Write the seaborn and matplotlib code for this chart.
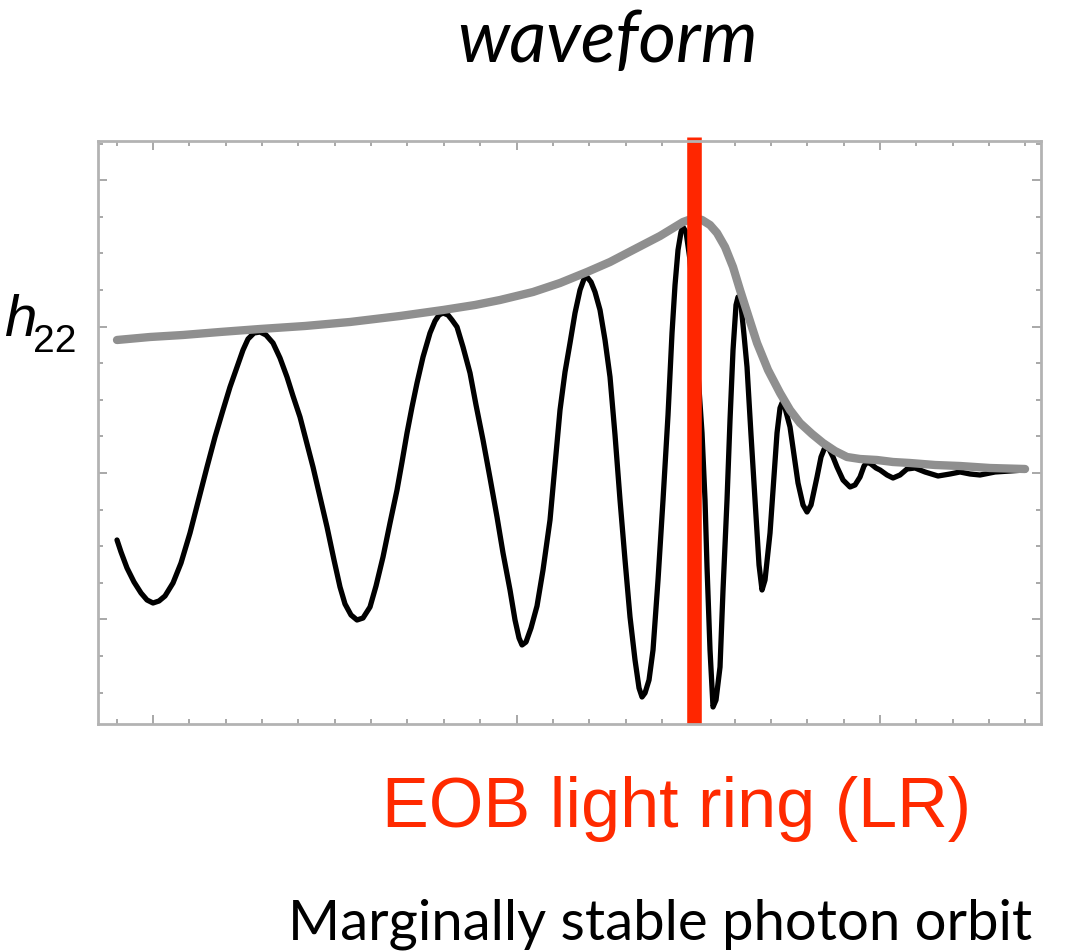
import numpy as np
import matplotlib
matplotlib.use("Agg")
import matplotlib.pyplot as plt
import pandas as pd
import seaborn as sns

# waveform h22 (arbitrary time / amplitude units)
t_wave = [-36, -32, -26, -19, -12, -6, 0, 6, 12, 20, 28, 37, 45, 54, 62, 70, 77, 84,
          90, 95, 101, 107, 113, 120, 127, 134, 140, 147, 153, 160, 167, 174, 181,
          187, 192, 198, 204, 210, 217, 223, 230, 237, 244, 249, 254, 259, 264, 270,
          277, 282, 286, 290, 295, 299, 304, 310, 317, 323, 330, 337, 344, 350, 357,
          362, 366, 369, 373, 378, 384, 390, 397, 402, 407, 412, 417, 422, 427, 431,
          434, 438, 442, 447, 452, 457, 462, 467, 472, 477, 482, 486, 489, 492, 496,
          500, 505, 510, 515, 519, 522, 525, 528, 530, 533, 537, 542, 549, 552, 554,
          557, 560, 563, 567, 570, 574, 577, 580, 583, 585, 588, 591, 594, 598, 602,
          606, 609, 612, 617, 621, 624, 627, 629, 632, 637, 641, 645, 650, 654, 658,
          664, 668, 672, 676, 680, 684, 690, 697, 702, 707, 711, 714, 718, 723, 727,
          734, 740, 747, 754, 762, 772, 785, 797, 807, 817, 827, 842, 857, 872]
h_wave = [-67, -79, -95, -109, -120, -127, -130, -128, -123, -110, -90, -60, -29, 6,
          36, 63, 86, 106, 123, 134, 140, 141, 138, 130, 115, 96, 77, 56, 33, 6, -24,
          -54, -87, -114, -131, -142, -147, -145, -134, -113, -84, -50, -17, 11, 40,
          66, 90, 116, 140, 152, 158, 160, 158, 153, 146, 126, 100, 68, 33, -5, -44,
          -80, -117, -147, -165, -172, -169, -155, -133, -97, -47, 8, 63, 101, 130,
          160, 183, 194, 196, 191, 181, 163, 133, 96, 38, -27, -87, -144, -187, -215,
          -224, -220, -207, -177, -107, -27, 58, 140, 188, 223, 241, 246, 241, 213,
          143, 40, -27, -94, -177, -234, -227, -194, -117, -27, 53, 123, 168, 176,
          168, 138, 106, 38, -27, -92, -117, -107, -60, -2, 40, 65, 70, 65, 46, 18,
          -10, -32, -39, -32, -4, 16, 26, 24, 16, 6, -7, -14, -12, -4, 7, 11, 9, 5,
          3, -2, -5, -2, 4, 5, 1, -3, -1, 1, -1, -2, 1, 2, 3]

# amplitude envelope |h22|
t_amp = [-36, -3, 30, 67, 107, 152, 197, 247, 290, 322, 347, 380, 407, 434, 457,
         480, 507, 530, 541, 549, 557, 564, 572, 580, 587, 595, 604, 615, 627, 637,
         647, 659, 670, 682, 694, 707, 724, 740, 757, 782, 807, 837, 872]
h_amp = [133, 136, 138, 141, 144, 147, 151, 157, 163, 168, 173, 181, 190, 201, 211,
         223, 237, 251, 255, 253, 248, 240, 226, 206, 183, 158, 130, 103, 80, 63,
         50, 39, 30, 22, 16, 14, 13, 11, 10, 8, 7, 5, 4]

# EOB light ring time
lr_time = 541

wave = pd.DataFrame({"t": t_wave, "h": h_wave})
amp = pd.DataFrame({"t": t_amp, "h": h_amp})

sns.set_style("ticks")
plt.rcParams["text.color"] = "black"

fig = plt.figure(figsize=(10.77, 9.52), dpi=100)
ax = fig.add_axes([0.0910, 0.2395, 0.8756, 0.6124])

sns.lineplot(data=wave, x="t", y="h", sort=False, color="black", lw=3.8, ax=ax)
sns.lineplot(data=amp, x="t", y="h", sort=False, color="#8f8f8f", lw=6, ax=ax)
ax.axvline(lr_time, ymin=0, ymax=1.007, color="#ff2600", lw=10.5, clip_on=False,
           solid_capstyle="butt")

ax.set_xlim(-55, 888)
ax.set_ylim(-251, 332)
ax.set_xlabel("")
ax.set_ylabel("")

# mathematica style frame ticks
xstep, ystep = 36.35, 36.6
ax.set_xticks(np.arange(0, 21, 10) * xstep)
ax.set_xticks(np.arange(-1, 25) * xstep, minor=True)
ax.set_yticks(np.arange(-4, 9, 4) * ystep)
ax.set_yticks(np.arange(-6, 10) * ystep, minor=True)
ax.tick_params(which="both", direction="in", top=True, right=True,
               labelbottom=False, labelleft=False, color="#9a9a9a")
ax.tick_params(which="major", length=6.5, width=1.2)
ax.tick_params(which="minor", length=3.5, width=1.2)
for s in ax.spines.values():
    s.set_color("#b3b3b3")
    s.set_linewidth(2.0)

fig.text(607 / 1077, 1 - 62 / 952, "waveform", ha="center", va="baseline",
         fontsize=52, style="italic", family="Lato", color="black")
fig.text(4 / 1077, 1 - 336 / 952, "h", ha="left", va="baseline", fontsize=42,
         style="italic", family="Liberation Sans", color="black")
fig.text(33 / 1077, 1 - 352 / 952, "22", ha="left", va="baseline", fontsize=28,
         family="Liberation Sans", color="black")
fig.text(677 / 1077, 1 - 827 / 952, "EOB light ring (LR)", ha="center",
         va="baseline", fontsize=50.5, color="#ff2a00", family="Liberation Sans")
fig.text(660 / 1077, 1 - 940 / 952, "Marginally stable photon orbit", ha="center",
         va="baseline", fontsize=40.5, family="Lato", color="black")

fig.savefig("out.png", dpi=100)
